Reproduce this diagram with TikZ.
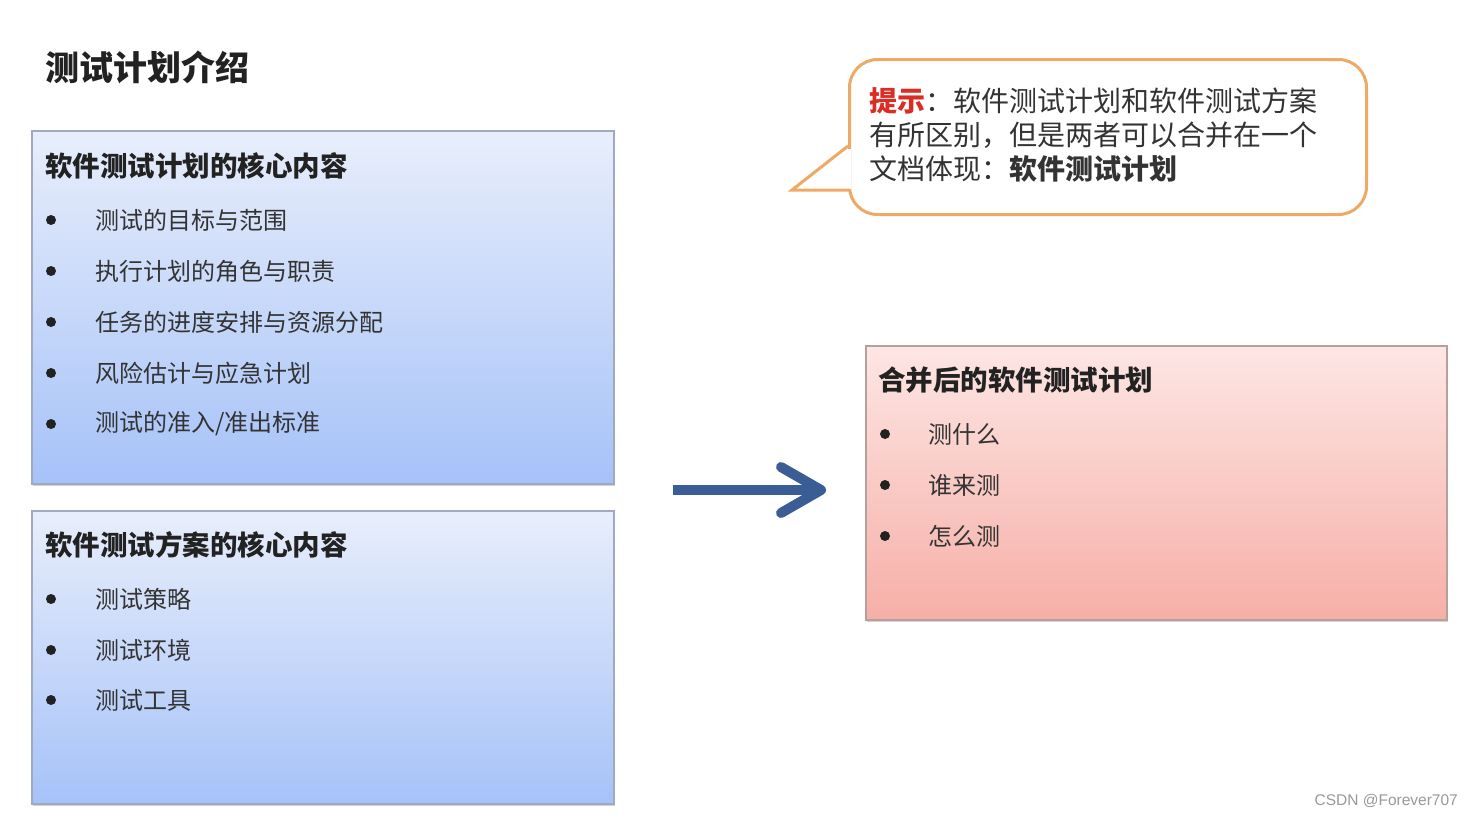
\documentclass[tikz,border=0pt]{standalone}
\usepackage{fontspec}
\setmainfont{Noto Sans CJK SC}
\newfontfamily\latfont{Liberation Sans}
\usetikzlibrary{shadows}
\definecolor{boxline}{HTML}{9FAAC2}
\definecolor{redline}{HTML}{B5A09E}
\definecolor{blueTop}{HTML}{E8EEFB}
\definecolor{blueBot}{HTML}{A6C2F8}
\definecolor{redTop}{HTML}{FDE6E4}
\definecolor{redBot}{HTML}{F6AFA7}
\definecolor{txtcol}{HTML}{333333}
\definecolor{hdrcol}{HTML}{222222}
\definecolor{tipred}{HTML}{DA2E25}
\definecolor{tipline}{HTML}{EFA967}
\definecolor{arrowcol}{HTML}{3A5D95}
\definecolor{wmcol}{HTML}{9A9A9A}
\begin{document}
\begin{tikzpicture}[x=1pt,y=-1pt,
  panel/.style={draw=boxline, line width=1.5pt, anchor=north west, inner sep=0pt,
    top color=blueTop, bottom color=blueBot,
    drop shadow={shadow xshift=1.5pt, shadow yshift=-2.5pt, opacity=0.35}},
  hdr/.style={anchor=west, inner sep=0pt, font=\fontsize{27.5}{32}\selectfont\bfseries, text=hdrcol},
  itm/.style={anchor=west, inner sep=0pt, font=\fontsize{24}{28}\selectfont, text=txtcol},
  bul/.style={circle, fill=hdrcol, inner sep=0pt, minimum size=10pt},
  tiptext/.style={anchor=west, inner sep=0pt, align=left, font=\fontsize{28}{34}\selectfont, text=txtcol}
]
\useasboundingbox (0,0) rectangle (1474,817);
\fill[white] (0,0) rectangle (1474,817);

% title
\node[anchor=west, inner sep=0pt, font=\fontsize{34}{38}\selectfont\bfseries, text=hdrcol] (title) at (45,67) {测试计划介绍};

% box 1
\node[panel, minimum width=582pt, minimum height=353pt] (box1) at (31,130) {};
\node[hdr] (h1) at (45,166) {软件测试计划的核心内容};
\node[bul] (b11) at (51,220) {}; \node[itm] (t11) at (95,220) {测试的目标与范围};
\node[bul] (b12) at (51,271) {}; \node[itm] (t12) at (95,271) {执行计划的角色与职责};
\node[bul] (b13) at (51,322) {}; \node[itm] (t13) at (95,322) {任务的进度安排与资源分配};
\node[bul] (b14) at (51,373) {}; \node[itm] (t14) at (95,373) {风险估计与应急计划};
\node[bul] (b15) at (51,424) {}; \node[itm] (t15) at (95,424) {测试的准入/准出标准};

% box 2
\node[panel, minimum width=582pt, minimum height=293pt] (box2) at (31,510) {};
\node[hdr] (h2) at (45,545) {软件测试方案的核心内容};
\node[bul] (b21) at (51,599) {}; \node[itm] (t21) at (95,599) {测试策略};
\node[bul] (b22) at (51,650) {}; \node[itm] (t22) at (95,650) {测试环境};
\node[bul] (b23) at (51,700) {}; \node[itm] (t23) at (95,700) {测试工具};

% box 3
\node[panel, draw=redline, top color=redTop, bottom color=redBot, minimum width=581pt, minimum height=274pt] (box3) at (865,345) {};
\node[hdr] (h3) at (878,380) {合并后的软件测试计划};
\node[bul] (b31) at (885,434) {}; \node[itm] (t31) at (928,434) {测什么};
\node[bul] (b32) at (885,485) {}; \node[itm] (t32) at (928,485) {谁来测};
\node[bul] (b33) at (885,536) {}; \node[itm] (t33) at (928,536) {怎么测};

% arrow
\coordinate (arrS) at (673,490);
\coordinate (arrE) at (821,490);
\draw[arrowcol, line width=10pt] (arrS) -- ([xshift=-6pt]arrE);
\draw[arrowcol, line width=10pt, line cap=round, line join=round]
  ([shift={(-40,-23)}]arrE) -- (arrE) -- ([shift={(-40,23)}]arrE);

% callout
\node[draw=tipline, line width=3pt, rounded corners=28pt, fill=white, anchor=north west,
  minimum width=517pt, minimum height=155pt, inner sep=0pt] (tip) at (848,58) {};
\fill[white] (845.5,149) rectangle (851,188.5);
\coordinate (tail) at (792,190);
\draw[tipline, line width=3pt, line join=miter] (848,146) -- (tail) -- (849.5,190);
\node[tiptext] (tipt) at (869,135) {{\bfseries\color{tipred}提示}：软件测试计划和软件测试方案\\有所区别，但是两者可以合并在一个\\文档体现：{\bfseries 软件测试计划}};

% watermark
\node[anchor=east, inner sep=0pt, font=\latfont\fontsize{15.5}{18}\selectfont, text=wmcol] (wm) at (1458,801) {CSDN @Forever707};
\end{tikzpicture}
\end{document}
